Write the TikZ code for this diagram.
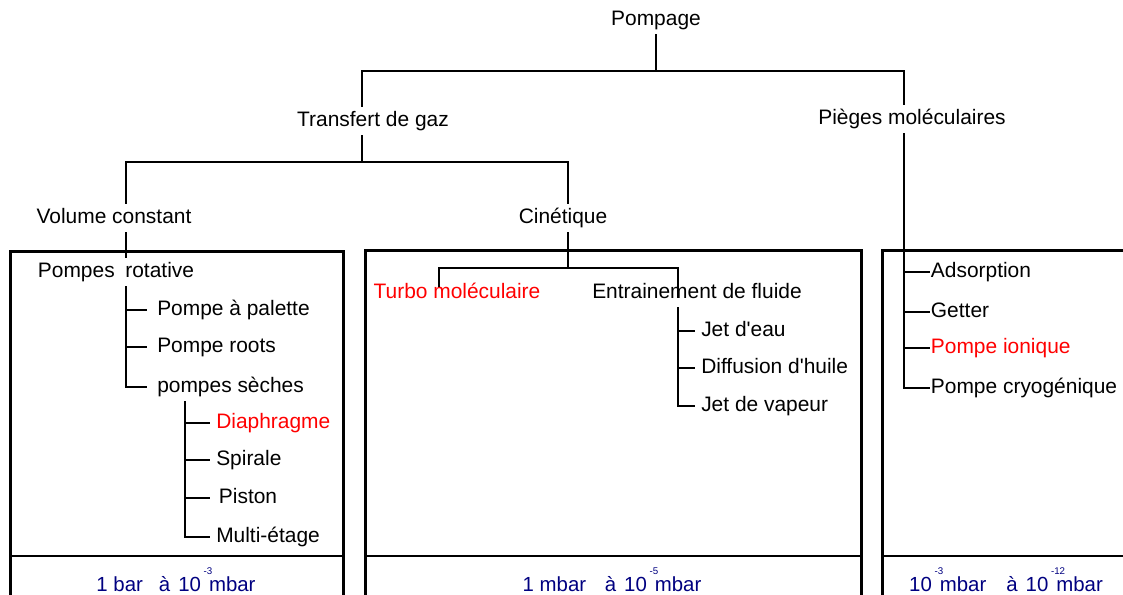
\documentclass[tikz,border=0pt]{standalone}
\usepackage{fontspec}
\setmainfont{Liberation Sans}
\usetikzlibrary{positioning}
\definecolor{rangeblue}{RGB}{0,0,128}
\definecolor{hotred}{RGB}{255,0,0}
\newcommand{\expo}[1]{\hspace{2pt}\rlap{\raisebox{13pt}{\fontsize{7.3}{7.3}\selectfont #1}}\hspace{4pt}}

\begin{document}
\begin{tikzpicture}[
  x=0.75pt,y=-0.75pt,
  font=\fontsize{15.7}{18}\selectfont,
  lbl/.style={inner xsep=2pt,inner ysep=3.5pt,text height=11pt,text depth=3.3pt},
  leaf/.style={lbl,anchor=west,inner xsep=4.5pt},
  hot/.style={text=hotred},
  rangetxt/.style={text=rangeblue,font=\fontsize{15.3}{17}\selectfont},
  tree/.style={line width=1pt},
  frame/.style={line width=2.25pt},
  sep/.style={line width=1.2pt}
]
\useasboundingbox (0,0) rectangle (1123,594);
\clip (0,0) rectangle (1123,594);

% upper levels
\node[lbl] (pompage) at (656,20) {Pompage};
\node[lbl] (transfert) at (373,121) {Transfert de gaz};
\node[lbl] (pieges) at (912,119) {Pièges moléculaires};
\node[lbl] (volume) at (114,218) {Volume constant};
\node[lbl] (cinetique) at (563,218) {Cinétique};

\coordinate (j0) at (656,71);
\draw[tree] (pompage.south) -- (pompage.south |- j0);
\draw[tree] (transfert.north -| 362,0) |- (j0) -| (pieges.north -| 904,0);
\coordinate (j1) at (362,162);
\draw[tree] (transfert.south -| j1) -- (j1);
\draw[tree] (volume.north -| 126,0) |- (j1) -| (cinetique.north -| 568,0);

% three frames with their pressure ranges
\draw[frame] (10,251) rectangle (343,620);
\draw[frame] (365,250) rectangle (861,620);
\draw[frame] (882,250) rectangle (1140,620);
\draw[sep] (10,556) -- (343,556);
\draw[sep] (365,556) -- (861,556);
\draw[sep] (882,556) -- (1140,556);
\node[rangetxt] (r1) at (176,580) {1 bar\hspace{12pt}à\hspace{6pt}10\expo{-3}mbar};
\node[rangetxt] (r2) at (612,580) {1 mbar\hspace{14pt}à\hspace{6pt}10\expo{-5}mbar};
\node[rangetxt] (r3) at (1006,580) {10\expo{-3}mbar\hspace{15pt}à\hspace{6pt}10\expo{-12}mbar};

% volume constant
\node[lbl] (rot) at (116,272) {Pompes\hspace{8pt}rotative};
\node[leaf,inner xsep=7.5pt] (palette) at (147,310) {Pompe à palette};
\node[leaf,inner xsep=7.5pt] (roots) at (147,347) {Pompe roots};
\node[leaf,inner xsep=7.5pt] (seches) at (147,387) {pompes sèches};
\node[leaf,hot] (diaph) at (210,423) {Diaphragme};
\node[leaf] (spirale) at (210,460) {Spirale};
\node[leaf,inner xsep=6.5pt] (piston) at (210,498) {Piston};
\node[leaf] (multi) at (210,537) {Multi-étage};
\draw[tree] (volume.south -| 126,0) -- (rot.north -| 126,0);
\foreach \n in {palette,roots,seches}
  \draw[tree] (rot.south -| 126,0) |- (\n.west);
\foreach \n in {diaph,spirale,piston,multi}
  \draw[tree] (seches.south -| 185,0) |- (\n.west);

% cinetique
\node[lbl,hot] (turbo) at (457,293) {Turbo moléculaire};
\node[lbl] (entr) at (697,293) {Entrainement de fluide};
\node[leaf] (eau) at (695,331) {Jet d\textquotesingle eau};
\node[leaf] (huile) at (695,368) {Diffusion d\textquotesingle huile};
\node[leaf] (vapeur) at (695,406) {Jet de vapeur};
\coordinate (j2) at (568,268);
\path (turbo.base) ++(0,-11) coordinate (tmtop);
\draw[tree] (cinetique.south -| j2) -- (j2);
\draw[tree] (tmtop -| 439,0) |- (j2) -| (entr.base -| 678,0);
\foreach \n in {eau,huile,vapeur}
  \draw[tree] (entr.south -| 678,0) |- (\n.west);

% pieges moleculaires
\node[leaf,inner xsep=.5pt] (adsorption) at (930,272) {Adsorption};
\node[leaf,inner xsep=.5pt] (getter) at (930,312) {Getter};
\node[leaf,inner xsep=.5pt,hot] (ionique) at (930,348) {Pompe ionique};
\node[leaf,inner xsep=.5pt] (cryo) at (930,388) {Pompe cryogénique};
\foreach \n in {adsorption,getter,ionique,cryo}
  \draw[tree] (pieges.south -| 904,0) |- (\n.west);
\end{tikzpicture}
\end{document}
